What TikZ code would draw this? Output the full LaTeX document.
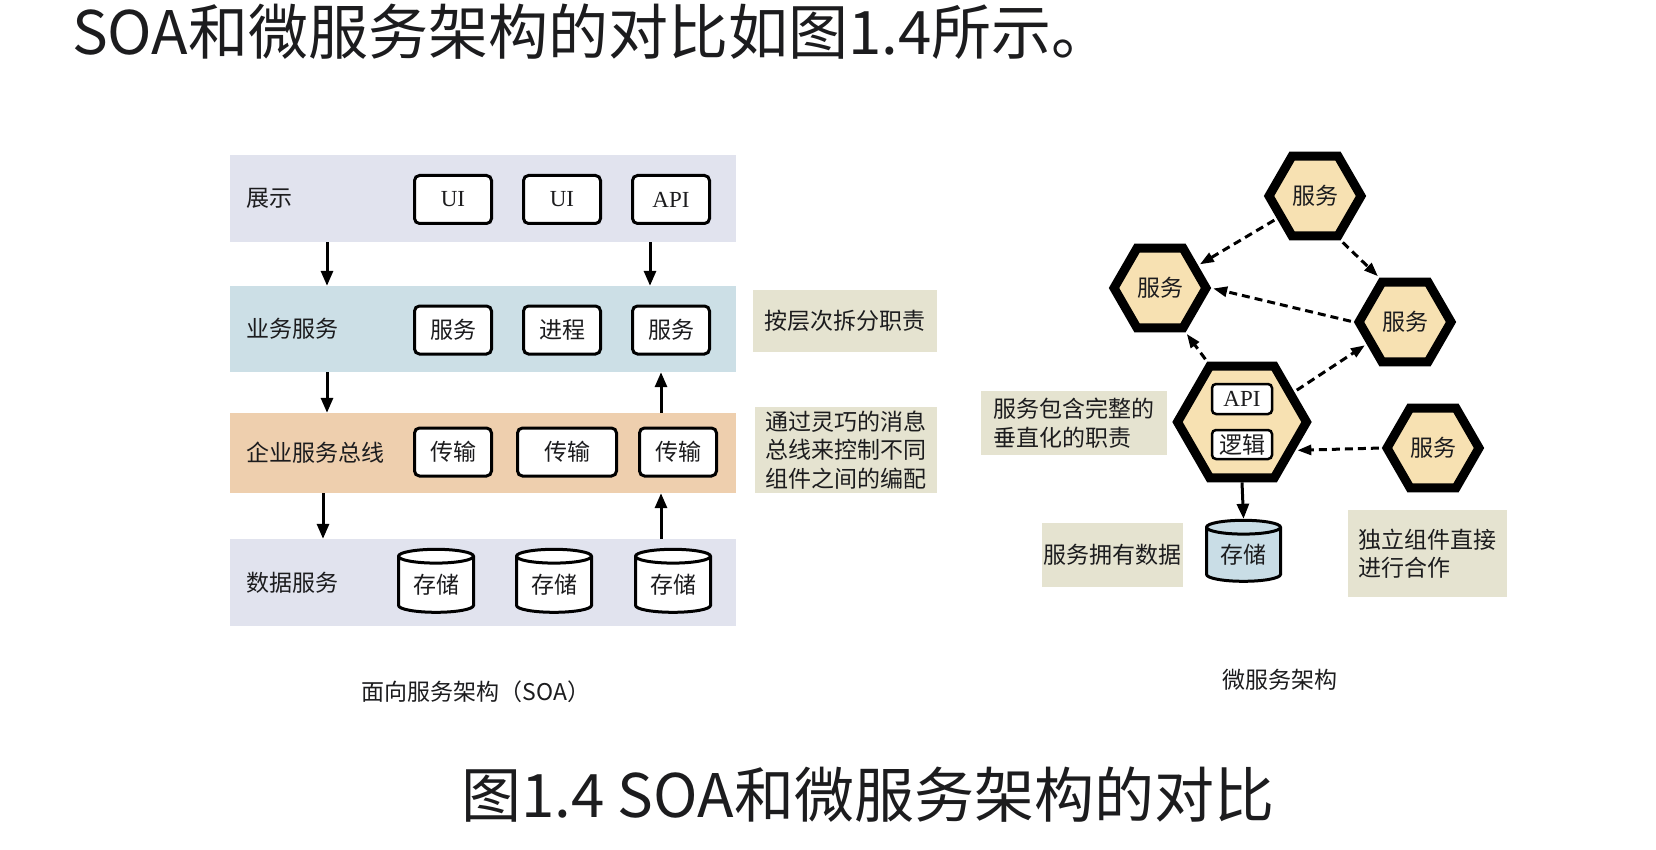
\documentclass[tikz,border=0pt]{standalone}
\usepackage{fontspec}
\setmainfont{Noto Sans CJK SC}
\newfontfamily\lserif{Liberation Serif}
\usetikzlibrary{arrows.meta,
                shapes.geometric}
\definecolor{ink}{RGB}{28,28,30}
\definecolor{bandgray}{RGB}{225,227,238}
\definecolor{bandblue}{RGB}{204,223,230}
\definecolor{bandtan}{RGB}{238,207,174}
\definecolor{notefill}{RGB}{229,227,208}
\definecolor{hexfill}{RGB}{247,225,178}
\definecolor{storeblue}{RGB}{201,221,230}
\newcommand\dsize{\fontsize{23}{28.5}\selectfont}

\begin{document}
\begin{tikzpicture}[x=1pt, y=-1pt,
layer/.style = {fill=#1, minimum width=506pt, inner sep=0pt},
lbl/.style   = {anchor=west, font=\dsize, text=ink, inner sep=0pt},
box/.style   = {draw, line width=3pt, rounded corners=5pt, fill=white,
                minimum width=77pt, minimum height=48pt, inner sep=0pt,
                font=\dsize, text=ink},
store/.style = {cylinder, shape border rotate=90, aspect=0.3, draw,
                line width=3pt, fill=#1, minimum width=75pt,
                minimum height=63pt, inner sep=0pt, font=\dsize, text=ink},
note/.style  = {fill=notefill, font=\dsize, text=ink, align=left, inner sep=0pt},
hex/.style   = {regular polygon, regular polygon sides=6, draw=black,
                line width=9pt, fill=hexfill, minimum size=#1, inner sep=0pt,
                outer sep=4.5pt, font=\dsize, text=ink},
flow/.style  = {line width=3pt, -{Triangle[length=15pt,width=12pt]}},
talk/.style  = {line width=3pt, dash pattern=on 8pt off 5pt,
                -{Triangle[length=14pt,width=10pt]},
                shorten <=3pt, shorten >=2pt}
                ]
\useasboundingbox (0,0) rectangle (1656,850);
% headings
\node[anchor=base west, inner sep=0pt, text=ink,
      font=\fontsize{60}{72}\selectfont] (title) at (72,55)
      {SOA和微服务架构的对比如图1.4所示。};
\node[anchor=base west, inner sep=0pt, text=ink,
      font=\fontsize{60}{72}\selectfont] (figcap) at (461,817)
      {图1.4 SOA和微服务架构的对比};
%
% SOA layers
\node[layer=bandgray, minimum height=87pt] (pres) at (483,198.5) {};
\node[layer=bandblue, minimum height=86pt] (biz)  at (483,329) {};
\node[layer=bandtan,  minimum height=80pt] (esb)  at (483,453) {};
\node[layer=bandgray, minimum height=87pt] (data) at (483,582.5) {};
\node[lbl] (presl) at (246,198.5) {展示};
\node[lbl] (bizl)  at (246,329)   {业务服务};
\node[lbl] (esbl)  at (246,453)   {企业服务总线};
\node[lbl] (datal) at (246,582.5) {数据服务};
%
\node[box] (ui1)  at (453,199.5) {\lserif UI};
\node[box] (ui2)  at (562,199.5) {\lserif UI};
\node[box] (api1) at (671,199.5) {\lserif API};
\node[box] (svc1) at (453,330) {服务};
\node[box] (proc) at (562,330) {进程};
\node[box] (svc2) at (671,330) {服务};
\node[box] (bus1) at (453,452) {传输};
\node[box, minimum width=99pt] (bus2) at (567,452) {传输};
\node[box] (bus3) at (678,452) {传输};
\node[store=white] (db1) at (436,585) {存储};
\node[store=white] (db2) at (554,585) {存储};
\node[store=white] (db3) at (673,585) {存储};
%
\coordinate (lx) at (327,0);
\coordinate (mx) at (323,0);
\coordinate (rx) at (650,0);
\coordinate (ux) at (661,0);
\draw[flow] (pres.south -| lx) -- (biz.north -| lx);
\draw[flow] (pres.south -| rx) -- (biz.north -| rx);
\draw[flow] (biz.south -| lx)  -- (esb.north -| lx);
\draw[flow] (esb.north -| ux)  -- (biz.south -| ux);
\draw[flow] (esb.south -| mx)  -- (data.north -| mx);
\draw[flow] (data.north -| ux) -- (esb.south -| ux);
%
\node[note, minimum width=184pt, minimum height=62pt] (whyA) at (845,321)
     {按层次拆分职责};
\node[note, minimum width=182pt, minimum height=86pt] (whyB) at (846,450)
     {通过灵巧的消息\\总线来控制不同\\组件之间的编配};
%
% microservices
\node[hex=92pt]  (hexT) at (1315,196) {服务};
\node[hex=92pt]  (hexL) at (1160,288) {服务};
\node[hex=92pt]  (hexR) at (1405,322) {服务};
\node[hex=129pt] (hexC) at (1242,422) {};
\node[hex=92pt]  (hexD) at (1433,448) {服务};
\node[box, line width=2.5pt, rounded corners=4pt, minimum width=60pt,
      minimum height=30pt] (apiC) at (1242,399) {\lserif API};
\node[box, line width=2.5pt, rounded corners=4pt, minimum width=60pt,
      minimum height=29pt] (logic) at (1242,444.5) {逻辑};
\node[store=storeblue, minimum width=74pt, minimum height=61pt] (dbC)
     at (1243.5,555) {存储};
%
\node[note, minimum width=186pt, minimum height=64pt] (noteA) at (1074,423)
     {服务包含完整的\\垂直化的职责};
\node[note, minimum width=141pt, minimum height=64pt] (noteB) at (1112.5,555)
     {服务拥有数据};
\node[note, minimum width=159pt, minimum height=87pt] (noteC) at (1427.5,553.5)
     {独立组件直接\\进行合作};
%
\draw[talk] (hexT) -- (hexL);
\draw[talk] (hexT.-60) -- (hexR.120);
\draw[talk] (hexR.180) -- (hexL.0);
\draw[talk] (hexC.120) -- (hexL.-60);
\draw[talk] (hexC.30)  -- (hexR.210);
\draw[talk] (hexD.180) -- (hexC.-28);
\draw[flow] (hexC.south) -- (dbC.north);
%
\node[font=\dsize, text=ink] (capL) at (476,692) {面向服务架构（SOA）};
\node[font=\dsize, text=ink] (capR) at (1280,680) {微服务架构};
\end{tikzpicture}
\end{document}
